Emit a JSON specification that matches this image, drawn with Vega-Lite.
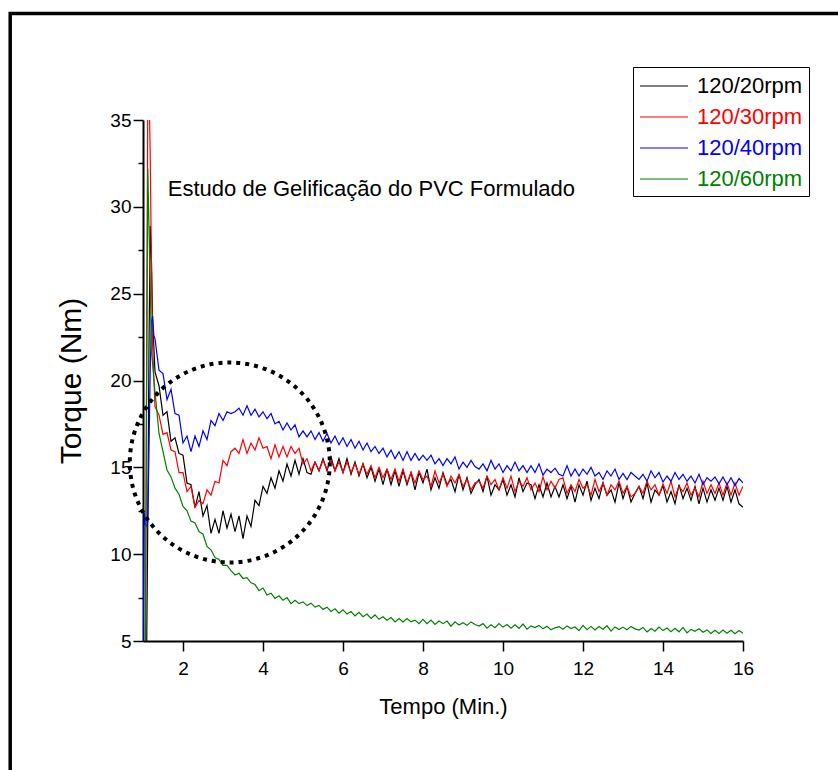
{
"$schema":"https://vega.github.io/schema/vega-lite/v6.json",
"width":600,"height":521,
"autosize":{"type":"none"},
"padding":{"left":143,"top":120,"right":95,"bottom":129},
"background":"white",
"config":{"view":{"stroke":null},"font":"Liberation Sans"},
"layer":[
{
"data":{"values":[
{"t":1.00,"k":4,"r":4,"b":4,"g":4},
{"t":1.03,"b":12.4},
{"t":1.06,"r":4,"b":11.7,"g":4},
{"t":1.09,"k":4,"r":20,"b":11.6,"g":20},
{"t":1.12,"k":12,"r":37,"b":11.9,"g":32.2},
{"t":1.15,"k":22,"r":37,"b":16,"g":28.8},
{"t":1.18,"k":28.9,"r":33,"b":20.5,"g":25.7},
{"t":1.21,"k":27,"r":27,"b":23.4,"g":21.7},
{"t":1.24,"k":23.5,"r":22,"b":23.7,"g":21},
{"t":1.27,"k":22,"r":20.2,"b":22.6,"g":20.1},
{"t":1.3,"k":20.5,"r":18.5,"b":22.4,"g":19.35},
{"t":1.4,"k":19.7,"r":18.0,"b":20.6,"g":16.95},
{"t":1.5,"k":18.0,"r":16.9,"b":20.4,"g":15.9},
{"t":1.6,"k":18.2,"r":17.0,"b":18.9,"g":14.85},
{"t":1.7,"k":16.5,"r":16.0,"b":19.5,"g":14.45},
{"t":1.8,"k":16.7,"r":15.9,"b":18.1,"g":13.8},
{"t":1.9,"k":15.8,"r":14.7,"b":18.0,"g":13.45},
{"t":2.0,"k":15.7,"r":14.7,"b":16.4,"g":12.75},
{"t":2.1,"k":14.1,"r":13.6,"b":16.8,"g":12.5},
{"t":2.2,"k":14.0,"r":13.9,"b":15.9,"g":11.9},
{"t":2.3,"k":12.7,"r":12.7,"b":16.8,"g":11.8},
{"t":2.4,"k":13.6,"r":13.1,"b":16.2,"g":11.3},
{"t":2.5,"k":12.2,"r":12.9,"b":17.1,"g":11.15},
{"t":2.6,"k":12.8,"r":13.7,"b":16.6,"g":10.45},
{"t":2.7,"k":11.2,"r":13.4,"b":17.7,"g":10.25},
{"t":2.8,"k":12.0,"r":14.2,"b":17.4,"g":9.8},
{"t":2.9,"k":11.2,"r":14.1,"b":18.1,"g":9.7},
{"t":3.0,"k":12.5,"r":15.4,"b":17.7,"g":9.35},
{"t":3.1,"k":11.5,"r":15.1,"b":18.2,"g":9.35},
{"t":3.2,"k":12.3,"r":15.9,"b":18.1,"g":9.05},
{"t":3.3,"k":11.3,"r":16.1,"b":18.2,"g":8.8},
{"t":3.4,"k":12.2,"r":15.8,"b":18.4,"g":8.9},
{"t":3.5,"k":10.9,"r":16.6,"b":18.0,"g":8.6},
{"t":3.6,"k":12.2,"r":15.8,"b":18.55,"g":8.65},
{"t":3.7,"k":11.6,"r":16.4,"b":18.0,"g":8.35},
{"t":3.8,"k":13.1,"r":16.0,"b":18.35,"g":8.25},
{"t":3.9,"k":12.8,"r":16.7,"b":17.9,"g":7.9},
{"t":4.0,"k":13.9,"r":16.1,"b":18.2,"g":8.05},
{"t":4.1,"k":13.5,"r":16.2,"b":17.8,"g":7.65},
{"t":4.2,"k":14.4,"r":15.5,"b":18.1,"g":7.75},
{"t":4.3,"k":13.8,"r":16.3,"b":17.5,"g":7.45},
{"t":4.4,"k":14.8,"r":15.6,"b":17.65,"g":7.6},
{"t":4.5,"k":14.2,"r":16.2,"b":17.15,"g":7.35},
{"t":4.6,"k":15.2,"r":15.6,"b":17.55,"g":7.5},
{"t":4.7,"k":14.5,"r":16.2,"b":17.15,"g":7.15},
{"t":4.8,"k":15.4,"r":15.8,"b":17.45,"g":7.35},
{"t":4.9,"k":14.6,"r":16.1,"b":16.75,"g":7.15},
{"t":5.0,"k":15.5,"r":15.2,"b":17.1,"g":7.25},
{"t":5.1,"k":14.7,"r":15.5,"b":16.75,"g":7.04},
{"t":5.2,"k":14.6,"r":14.8,"b":17.1,"g":7.18},
{"t":5.3,"k":15.3,"r":15.3,"b":16.6,"g":6.95},
{"t":5.4,"k":14.8,"r":14.8,"b":17.0,"g":7.05},
{"t":5.5,"k":15.5,"r":15.4,"b":16.5,"g":6.82},
{"t":5.6,"k":14.8,"r":14.9,"b":16.95,"g":6.95},
{"t":5.7,"k":15.6,"r":15.4,"b":16.4,"g":6.7},
{"t":5.8,"k":14.8,"r":14.8,"b":16.8,"g":6.85},
{"t":5.9,"k":15.5,"r":15.3,"b":16.3,"g":6.6},
{"t":6.0,"k":14.7,"r":14.7,"b":16.7,"g":6.8},
{"t":6.1,"k":15.5,"r":15.3,"b":16.2,"g":6.55},
{"t":6.2,"k":14.6,"r":14.7,"b":16.6,"g":6.7},
{"t":6.3,"k":15.3,"r":15.2,"b":16.1,"g":6.45},
{"t":6.4,"k":14.5,"r":14.6,"b":16.5,"g":6.65},
{"t":6.5,"k":15.2,"r":15.2,"b":16.0,"g":6.4},
{"t":6.6,"k":14.4,"r":14.6,"b":16.4,"g":6.55},
{"t":6.7,"k":15.0,"r":15.1,"b":15.9,"g":6.3},
{"t":6.8,"k":14.2,"r":14.4,"b":16.2,"g":6.5},
{"t":6.9,"k":14.9,"r":15.0,"b":15.8,"g":6.25},
{"t":7.0,"k":14.0,"r":14.4,"b":16.1,"g":6.4},
{"t":7.1,"k":14.9,"r":14.9,"b":15.6,"g":6.2},
{"t":7.2,"k":14.0,"r":14.3,"b":16.0,"g":6.35},
{"t":7.3,"k":14.8,"r":14.9,"b":15.5,"g":6.1},
{"t":7.4,"k":13.9,"r":14.2,"b":15.9,"g":6.3},
{"t":7.5,"k":14.8,"r":14.9,"b":15.4,"g":6.1},
{"t":7.6,"k":14.0,"r":14.1,"b":15.9,"g":6.3},
{"t":7.7,"k":14.7,"r":14.7,"b":15.4,"g":6.1},
{"t":7.8,"k":13.7,"r":14.1,"b":15.8,"g":6.2},
{"t":7.9,"k":14.7,"r":14.8,"b":15.4,"g":6.0},
{"t":8.0,"k":14.1,"r":14.3,"b":15.7,"g":6.25},
{"t":8.1,"k":14.9,"r":14.5,"b":15.4,"g":6.0},
{"t":8.2,"k":13.7,"r":13.9,"b":15.7,"g":6.2},
{"t":8.3,"k":14.4,"r":14.8,"b":15.2,"g":5.95},
{"t":8.4,"k":13.8,"r":14.1,"b":15.5,"g":6.15},
{"t":8.5,"k":14.7,"r":14.6,"b":15.1,"g":6.0},
{"t":8.6,"k":14.0,"r":13.9,"b":15.5,"g":6.15},
{"t":8.7,"k":14.3,"r":14.5,"b":15.2,"g":5.85},
{"t":8.8,"k":13.6,"r":14.1,"b":15.6,"g":6.1},
{"t":8.9,"k":14.6,"r":14.6,"b":14.9,"g":5.92},
{"t":9.0,"k":13.7,"r":13.9,"b":15.3,"g":6.05},
{"t":9.1,"k":14.4,"r":14.3,"b":15.0,"g":5.9},
{"t":9.2,"k":13.5,"r":13.7,"b":15.4,"g":6.1},
{"t":9.3,"k":14.0,"r":14.1,"b":15.05,"g":5.95},
{"t":9.4,"k":14.3,"r":14.2,"b":14.9,"g":5.86},
{"t":9.5,"k":13.6,"r":13.8,"b":15.2,"g":6.0},
{"t":9.6,"k":14.5,"r":14.5,"b":14.8,"g":5.74},
{"t":9.7,"k":13.4,"r":14.0,"b":15.4,"g":5.93},
{"t":9.8,"k":14.0,"r":14.3,"b":14.9,"g":5.77},
{"t":9.9,"k":13.7,"r":13.7,"b":15.2,"g":6.0},
{"t":10.0,"k":14.3,"r":14.4,"b":14.7,"g":5.8},
{"t":10.1,"k":13.4,"r":13.8,"b":15.1,"g":5.95},
{"t":10.2,"k":14.0,"r":14.5,"b":14.8,"g":5.74},
{"t":10.3,"k":13.3,"r":13.6,"b":15.3,"g":5.93},
{"t":10.4,"k":14.4,"r":14.2,"b":14.8,"g":5.73},
{"t":10.5,"k":13.6,"r":13.9,"b":15.1,"g":5.98},
{"t":10.6,"k":14.1,"r":14.4,"b":14.7,"g":5.68},
{"t":10.7,"k":14.0,"r":13.7,"b":15.1,"g":5.87},
{"t":10.8,"k":13.2,"r":14.1,"b":14.7,"g":5.77},
{"t":10.9,"k":14.0,"r":13.6,"b":15.2,"g":5.9},
{"t":11.0,"k":13.3,"r":14.45,"b":14.55,"g":5.7},
{"t":11.1,"k":14.1,"r":13.7,"b":14.9,"g":5.85},
{"t":11.2,"k":13.3,"r":14.2,"b":14.7,"g":5.64},
{"t":11.3,"k":13.9,"r":13.8,"b":14.95,"g":5.76},
{"t":11.4,"k":13.3,"r":14.3,"b":14.6,"g":5.83},
{"t":11.5,"k":14.0,"r":14.4,"b":14.5,"g":5.68},
{"t":11.6,"k":13.2,"r":13.5,"b":15.1,"g":5.87},
{"t":11.7,"k":13.9,"r":14.0,"b":14.5,"g":5.72},
{"t":11.8,"k":13.0,"r":13.6,"b":14.9,"g":5.81},
{"t":11.9,"k":14.0,"r":14.3,"b":14.5,"g":5.6},
{"t":12.0,"k":13.4,"r":13.8,"b":14.9,"g":5.9},
{"t":12.1,"k":14.2,"r":14.0,"b":14.6,"g":5.65},
{"t":12.2,"k":13.1,"r":13.4,"b":15.0,"g":5.84},
{"t":12.3,"k":13.8,"r":14.3,"b":14.5,"g":5.64},
{"t":12.4,"k":13.2,"r":13.6,"b":14.7,"g":5.83},
{"t":12.5,"k":14.1,"r":14.1,"b":14.3,"g":5.68},
{"t":12.6,"k":13.4,"r":13.4,"b":14.8,"g":5.88},
{"t":12.7,"k":13.7,"r":14.0,"b":14.5,"g":5.57},
{"t":12.8,"k":13.0,"r":13.7,"b":14.9,"g":5.81},
{"t":12.9,"k":14.1,"r":14.2,"b":14.3,"g":5.66},
{"t":13.0,"k":13.2,"r":13.5,"b":14.65,"g":5.8},
{"t":13.1,"k":13.9,"r":13.9,"b":14.3,"g":5.65},
{"t":13.2,"k":13.0,"r":13.3,"b":14.7,"g":5.84},
{"t":13.3,"k":13.5,"r":13.5,"b":14.5,"g":5.7},
{"t":13.4,"k":13.9,"r":13.9,"b":14.3,"g":5.63},
{"t":13.5,"k":13.2,"r":13.5,"b":14.6,"g":5.78},
{"t":13.6,"k":14.1,"r":14.2,"b":14.2,"g":5.52},
{"t":13.7,"k":13.0,"r":13.7,"b":14.8,"g":5.72},
{"t":13.8,"k":13.7,"r":14.0,"b":14.4,"g":5.56},
{"t":13.9,"k":13.4,"r":13.4,"b":14.7,"g":5.8},
{"t":14.0,"k":13.95,"r":14.05,"b":14.15,"g":5.6},
{"t":14.1,"k":13.0,"r":13.5,"b":14.5,"g":5.75},
{"t":14.2,"k":13.6,"r":14.2,"b":14.2,"g":5.54},
{"t":14.3,"k":12.9,"r":13.3,"b":14.7,"g":5.73},
{"t":14.4,"k":14.0,"r":13.9,"b":14.3,"g":5.53},
{"t":14.5,"k":13.2,"r":13.6,"b":14.6,"g":5.78},
{"t":14.6,"k":13.8,"r":14.1,"b":14.2,"g":5.47},
{"t":14.7,"k":13.1,"r":13.4,"b":14.5,"g":5.67},
{"t":14.8,"k":13.9,"r":13.8,"b":14.1,"g":5.56},
{"t":14.9,"k":12.9,"r":13.3,"b":14.6,"g":5.7},
{"t":15.0,"k":13.8,"r":14.2,"b":14.0,"g":5.5},
{"t":15.1,"k":13.0,"r":13.5,"b":14.4,"g":5.64},
{"t":15.2,"k":13.7,"r":14.0,"b":14.2,"g":5.43},
{"t":15.3,"k":13.1,"r":13.5,"b":14.45,"g":5.62},
{"t":15.4,"k":13.8,"r":14.1,"b":14.05,"g":5.44},
{"t":15.5,"k":13.1,"r":13.4,"b":14.45,"g":5.63},
{"t":15.6,"k":13.9,"r":14.1,"b":14.0,"g":5.45},
{"t":15.7,"k":13.0,"r":13.4,"b":14.4,"g":5.62},
{"t":15.8,"k":13.7,"r":14.1,"b":13.95,"g":5.42},
{"t":15.9,"k":12.9,"r":13.4,"b":14.35,"g":5.6},
{"t":16.0,"k":12.7,"r":13.9,"b":14.1,"g":5.45}
]},
"transform":[{"fold":["k","r","b","g"],"as":["s","v"]}],
"mark":{"type":"line","strokeWidth":1.2,"clip":true},
"encoding":{
"x":{"field":"t","type":"quantitative","scale":{"domain":[1,16],"nice":false,"zero":false},
"axis":{"title":"Tempo (Min.)","values":[2,4,6,8,10,12,14,16],"format":"d",
"tickSize":10,
"labelFontSize":19,"titleFontSize":22,"titleFontWeight":"normal","labelPadding":8,"titlePadding":18,
"domainColor":"black","domainWidth":2,"tickColor":"black","tickWidth":1.5,"grid":false,
"labelOverlap":false,"labelFlush":false,"labelColor":"black","titleColor":"black"}},
"y":{"field":"v","type":"quantitative","scale":{"domain":[5,35],"nice":false,"zero":false},
"axis":{"title":"Torque (Nm)","values":[5,7.5,10,12.5,15,17.5,20,22.5,25,27.5,30,32.5,35],"format":"d",
"labelExpr":"datum.value % 5 == 0 ? datum.label : ''",
"tickSize":{"condition":{"test":"datum.value % 5 != 0","value":5},"value":10},
"labelFontSize":19,"titleFontSize":30,"titleFontWeight":"normal","labelPadding":2,"titlePadding":23,
"domainColor":"black","domainWidth":2,"tickColor":"black","tickWidth":1.5,"grid":false,
"labelOverlap":false,"labelColor":"black","titleColor":"black"}},
"color":{"field":"s","type":"nominal",
"scale":{"domain":["k","r","b","g"],"range":["#000000","#ff0000","#0000ff","#008000"]},
"legend":{"title":null,"orient":"none","legendX":490,"legendY":-53,
"strokeColor":"black","fillColor":"white","padding":6,
"symbolType":"M-2,0H2","symbolSize":576,"symbolStrokeWidth":1.2,"symbolOffset":12,
"labelFontSize":22,"labelOffset":20,"rowPadding":7,
"labelExpr":"datum.label == 'k' ? '120/20rpm' : datum.label == 'r' ? '120/30rpm' : datum.label == 'b' ? '120/40rpm' : '120/60rpm'",
"encode":{"labels":{"update":{"fill":{"scale":"color","field":"value"}}}}}}
}
},
{
"data":{"values":[{}]},
"mark":{"type":"rect","filled":false,"stroke":"black","strokeWidth":3.5,"clip":false},
"encoding":{
"x":{"datum":-2.32,"type":"quantitative"},
"x2":{"datum":19},
"y":{"datum":41.13,"type":"quantitative"},
"y2":{"datum":-3}
}
},
{
"data":{"values":[{}]},
"mark":{"type":"point","shape":"circle","size":40000,"filled":false,"stroke":"black","strokeWidth":4,"strokeDash":[4,5],"opacity":1,"clip":false},
"encoding":{
"x":{"datum":3.17,"type":"quantitative"},
"y":{"datum":15.28,"type":"quantitative"}
}
},
{
"data":{"values":[{}]},
"mark":{"type":"text","text":"Estudo de Gelificação do PVC Formulado","align":"left","baseline":"middle","fontSize":22,"font":"Liberation Sans","color":"black","clip":false},
"encoding":{
"x":{"datum":1.62,"type":"quantitative"},
"y":{"datum":31.0,"type":"quantitative"}
}
}
]
}
